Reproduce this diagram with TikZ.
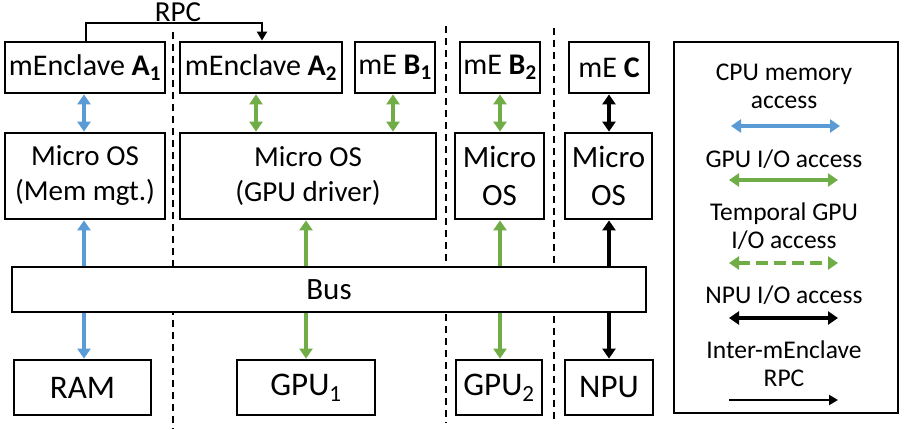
\documentclass[tikz,border=0pt]{standalone}
\usepackage{fontspec}
\setmainfont{Carlito}
\usetikzlibrary{arrows.meta}
\definecolor{cblue}{HTML}{5B9BD5}
\definecolor{cgreen}{HTML}{70AD47}
\begin{document}
\begin{tikzpicture}[x=1pt,y=-1pt,
  box/.style={draw, line width=2.8pt, inner sep=0pt, align=center, font=\fontsize{30}{35}\selectfont},
  osbox/.style={box, font=\fontsize{29}{35}\selectfont},
  bigbox/.style={box, font=\fontsize{31}{38}\selectfont},
  devbox/.style={box, font=\fontsize{33}{38}\selectfont},
  legtext/.style={inner sep=0pt, align=center, font=\fontsize{25.5}{28}\selectfont},
  acc/.style={line width=3.6pt, {Triangle[width=13pt,length=10pt]}-{Triangle[width=13pt,length=10pt]}},
  bluearr/.style={acc, cblue},
  greenarr/.style={acc, cgreen},
  blackarr/.style={acc, black},
  sep/.style={line width=1.5pt, dash pattern=on 7pt off 5pt},
  rpcline/.style={line width=2.2pt, -{Triangle[width=10pt,length=9pt]}}
]
\useasboundingbox (0,0) rectangle (906,429);

% top row
\node[box, minimum width=160pt, minimum height=51pt] (A1) at (85,67.5) {mEnclave \textbf{A\textsubscript{1}}};
\node[box, minimum width=162pt, minimum height=51pt] (A2) at (261,67.5) {mEnclave \textbf{A\textsubscript{2}}};
\node[box, minimum width=80pt, minimum height=51pt] (B1) at (395,67.5) {mE \textbf{B\textsubscript{1}}};
\node[box, minimum width=80pt, minimum height=51pt] (B2) at (500,67.5) {mE \textbf{B\textsubscript{2}}};
\node[box, minimum width=80pt, minimum height=51pt] (C) at (609,67.5) {mE \textbf{C}};

% OS row
\node[osbox, minimum width=160pt, minimum height=86pt] (osA) at (85,176) {Micro OS\\(Mem mgt.)};
\node[osbox, minimum width=256pt, minimum height=86pt] (osG) at (308,176) {Micro OS\\(GPU driver)};
\node[bigbox, minimum width=89pt, minimum height=86pt] (osB) at (499.5,176) {Micro\\OS};
\node[bigbox, minimum width=87pt, minimum height=86pt] (osC) at (608.5,176) {Micro\\OS};

% device row
\node[devbox, minimum width=137pt, minimum height=55pt] (RAM) at (82.5,387.5) {RAM};
\node[devbox, minimum width=138pt, minimum height=55pt] (GPU1) at (306,387.5) {GPU\textsubscript{1}};
\node[devbox, minimum width=86pt, minimum height=55pt] (GPU2) at (499,387.5) {GPU\textsubscript{2}};
\node[devbox, minimum width=88pt, minimum height=55pt] (NPU) at (609,387.5) {NPU};

% enclave - OS arrows
\draw[bluearr] (A1.south -| 84,0) -- (osA.north -| 84,0);
\draw[greenarr] (A2.south -| 256,0) -- (osG.north -| 256,0);
\draw[greenarr] (B1.south -| 393,0) -- (osG.north -| 393,0);
\draw[greenarr] (B2.south) -- (B2.south |- osB.north);
\draw[blackarr] (C.south) -- (C.south |- osC.north);

% OS - device arrows (through bus)
\draw[bluearr] (osA.south -| 84,0) -- (RAM.north -| 84,0);
\draw[greenarr] (GPU1.north |- osG.south) -- (GPU1.north);
\draw[greenarr] (osB.south -| 500,0) -- (GPU2.north -| 500,0);
\draw[blackarr] (osC.south -| 609,0) -- (NPU.north -| 609,0);

% separators
\coordinate (s1t) at (173,32); \coordinate (s1b) at (173,429);
\coordinate (s2t) at (446,26); \coordinate (s2b) at (446,423);
\coordinate (s3t) at (554,28); \coordinate (s3b) at (554,423);
\draw[sep] (s1t) -- (s1b);
\draw[sep] (s2t) -- (s2b);
\draw[sep] (s3t) -- (s3b);

% bus
\node[box, fill=white, font=\fontsize{31}{36}\selectfont, minimum width=634pt, minimum height=45pt] (bus) at (329,289.5) {Bus};

% RPC
\draw[rpcline] (A1.north -| 86,0) -- (86,23) -- (262,23) -- (A2.north -| 262,0);
\node[inner sep=0pt, font=\fontsize{29}{32}\selectfont] (rpc) at (178,12) {RPC};

% legend
\node[draw, line width=1.8pt, minimum width=224pt, minimum height=371pt, inner sep=0pt] (leg) at (786,227.5) {};
\node[legtext] (l1) at (784,86) {CPU memory\\access};
\coordinate (a1l) at (731,126); \coordinate (a1r) at (840,126);
\draw[bluearr] (a1l) -- (a1r);
\node[legtext] (l2) at (784,159) {GPU I/O access};
\coordinate (a2l) at (729,180); \coordinate (a2r) at (838,180);
\draw[greenarr] (a2l) -- (a2r);
\node[legtext] (l3) at (784,226) {Temporal GPU\\I/O access};
\coordinate (a3l) at (729,263); \coordinate (a3r) at (838,263);
\draw[greenarr, dash pattern=on 12pt off 6pt] (a3l) -- (a3r);
\node[legtext] (l4) at (784,295) {NPU I/O access};
\coordinate (a4l) at (729,318); \coordinate (a4r) at (838,318);
\draw[blackarr] (a4l) -- (a4r);
\node[legtext] (l5) at (784,364) {Inter-mEnclave\\RPC};
\coordinate (a5l) at (729,400); \coordinate (a5r) at (838,400);
\draw[rpcline] (a5l) -- (a5r);
\end{tikzpicture}
\end{document}
